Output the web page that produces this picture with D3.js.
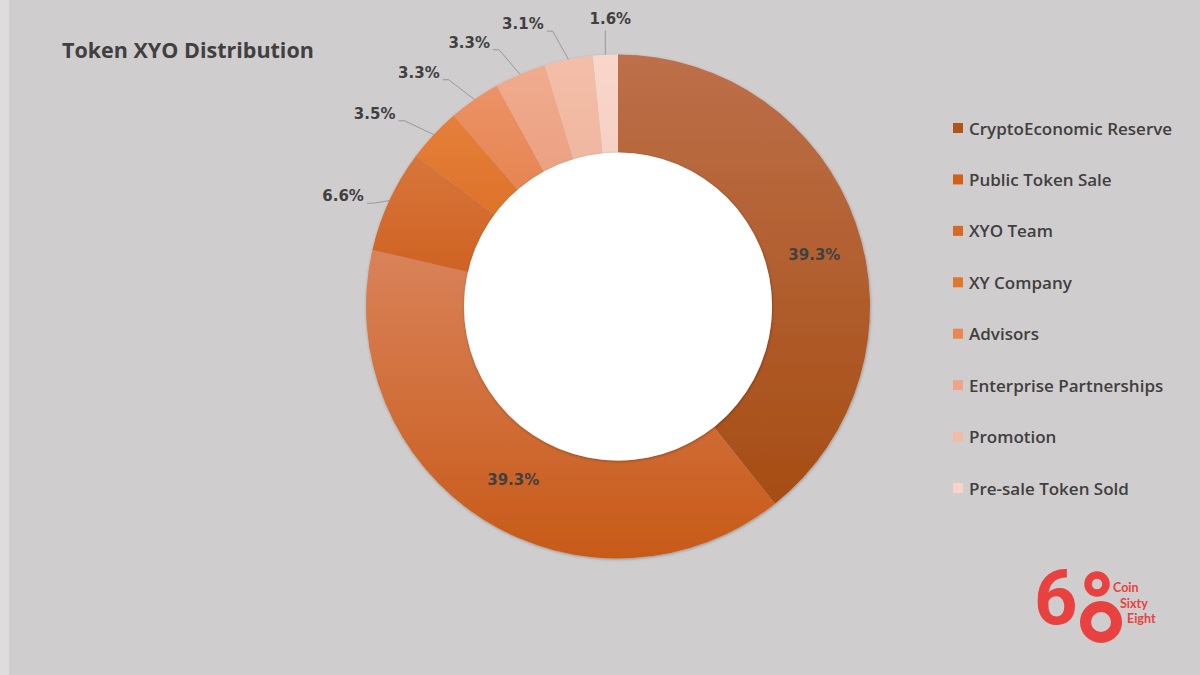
<!DOCTYPE html>
<html>
<head>
<meta charset="utf-8">
<script src="https://cdn.jsdelivr.net/npm/d3@7"></script>
<style>
  html, body { margin: 0; padding: 0; background: #dedddd; }
  svg { display: block; }
</style>
</head>
<body>
<svg id="chart" width="1200" height="675" font-family="'Open Sans', 'Noto Sans', sans-serif"></svg>
<script>
// ---- data ----
const categories = [
  "CryptoEconomic Reserve",
  "Public Token Sale",
  "XYO Team",
  "XY Company",
  "Advisors",
  "Enterprise Partnerships",
  "Promotion",
  "Pre-sale Token Sold"
];
const shares = [39.3, 39.3, 6.6, 3.5, 3.3, 3.3, 3.1, 1.6];
const percentLabels = ["39.3%", "39.3%", "6.6%", "3.5%", "3.3%", "3.3%", "3.1%", "1.6%"];
const title = "Token XYO Distribution";
const logoWords = ["Coin", "Sixty", "Eight"];

// ---- styles ----
const topColors    = ["#bd6f49", "#d9825a", "#d8753a", "#e57f3a", "#ec9266", "#f0ab8e", "#f3bea8", "#f8d6ca"];
const bottomColors = ["#a64d14", "#c85a18", "#cf6324", "#de732a", "#e68552", "#eca183", "#f1b7a0", "#f6d1c4"];
const legendColors = ["#b0541c", "#d0601a", "#d46a26", "#e0782c", "#e88850", "#eea48a", "#f3bba4", "#f7d4c6"];
const labelFont = "'DejaVu Sans', Verdana, sans-serif";

const W = 1200, H = 675;
const svg = d3.select("#chart");
const defs = svg.append("defs");

// background
svg.append("rect").attr("x", 9).attr("y", 0).attr("width", W - 9).attr("height", H).attr("fill", "#d0cdce");

// drop shadow
const f = defs.append("filter").attr("id", "sh").attr("x", "-10%").attr("y", "-10%").attr("width", "120%").attr("height", "120%");
f.append("feDropShadow").attr("dx", 0.5).attr("dy", 1).attr("stdDeviation", 1.5).attr("flood-color", "#000").attr("flood-opacity", 0.28);

// gradients
shares.forEach((s, i) => {
  const g = defs.append("linearGradient").attr("id", "g" + i)
    .attr("x1", 0).attr("y1", 0).attr("x2", 0).attr("y2", 1);
  g.append("stop").attr("offset", "0%").attr("stop-color", topColors[i]);
  g.append("stop").attr("offset", "100%").attr("stop-color", bottomColors[i]);
});

// title
svg.append("text").attr("x", 62).attr("y", 58)
  .attr("font-size", 21.5).attr("font-weight", 700).attr("fill", "#404040")
  .text(title);

// donut
const cx = 618, cy = 306.5, R = 252, r0 = 154;
const pie = d3.pie().sort(null).value(d => d);
const arcs = pie(shares);
const arc = d3.arc().innerRadius(r0).outerRadius(R);
const g = svg.append("g").attr("transform", `translate(${cx},${cy})`);

const ring = g.append("g").attr("filter", "url(#sh)");
ring.selectAll("path").data(arcs).join("path")
  .attr("d", arc)
  .attr("fill", (d, i) => `url(#g${i})`);

// white hole
g.append("circle").attr("r", r0).attr("fill", "#ffffff").attr("filter", "url(#sh)");

// inner labels (large slices)
const midR = 203;
const bigOnes = arcs.filter(d => d.value >= 10);
g.selectAll("text.inner").data(bigOnes).join("text")
  .attr("class", "inner")
  .attr("transform", d => {
    const a = (d.startAngle + d.endAngle) / 2 + (d.index === 0 ? 0.08 : -0.02);
    return `translate(${midR * Math.sin(a)},${-midR * Math.cos(a)})`;
  })
  .attr("text-anchor", "middle").attr("dominant-baseline", "central")
  .style("font-family", labelFont)
  .attr("font-size", 15).attr("font-weight", 700).attr("fill", "#404040")
  .text(d => percentLabels[d.index]);

// outside labels (small slices)
const small = arcs.filter(d => d.value < 10);
const shift = -0.035;
small.forEach(d => {
  const a = (d.startAngle + d.endAngle) / 2;
  const b = a + shift;
  const elbowR = d.value > 5 ? 266 : 283;
  const p0 = [R * Math.sin(a), -R * Math.cos(a)];
  const nearTop = Math.abs(Math.sin(a)) < 0.12;
  if (nearTop) {
    const top = -(elbowR - 7);
    g.append("path").attr("d", d3.line()([p0, [p0[0], top]]))
      .attr("stroke", "#8c8c8c").attr("stroke-width", 0.8).attr("fill", "none");
    g.append("text").attr("x", p0[0] + 5).attr("y", top - 12)
      .attr("text-anchor", "middle").attr("dominant-baseline", "central")
      .style("font-family", labelFont)
      .attr("font-size", 15).attr("font-weight", 700).attr("fill", "#404040")
      .text(percentLabels[d.index]);
  } else {
    const p1 = [elbowR * Math.sin(b), -elbowR * Math.cos(b)];
    const p2 = [p1[0] - 6, p1[1]];
    g.append("path").attr("d", d3.line()([p0, p1, p2]))
      .attr("stroke", "#8c8c8c").attr("stroke-width", 0.8).attr("fill", "none");
    g.append("text").attr("x", p2[0] - 3).attr("y", p1[1] - 7)
      .attr("text-anchor", "end").attr("dominant-baseline", "central")
      .style("font-family", labelFont)
      .attr("font-size", 15).attr("font-weight", 700).attr("fill", "#404040")
      .text(percentLabels[d.index]);
  }
});

// legend
const ly = d3.scalePoint().domain(categories).range([128, 488]);
const leg = svg.append("g").selectAll("g").data(categories).join("g")
  .attr("transform", d => `translate(953,${ly(d)})`);
leg.append("rect").attr("x", 0).attr("y", -5).attr("width", 10).attr("height", 10)
  .attr("fill", (d, i) => legendColors[i]);
leg.append("text").attr("x", 16).attr("y", 0).attr("dominant-baseline", "central")
  .attr("font-size", 17).attr("font-weight", 600).attr("fill", "#404040")
  .text(d => d);

// logo
const red = "#e8413f";
const logo = svg.append("g");
logo.append("text").attr("x", 1034).attr("y", 624)
  .attr("font-size", 76).attr("font-weight", 700).attr("fill", red)
  .style("font-family", "Roboto, 'Open Sans', sans-serif")
  .text("6");
logo.append("circle").attr("cx", 1097).attr("cy", 584).attr("r", 9).attr("fill", "none").attr("stroke", red).attr("stroke-width", 7.5);
logo.append("circle").attr("cx", 1101).attr("cy", 622).attr("r", 15.5).attr("fill", "none").attr("stroke", red).attr("stroke-width", 11);
logo.selectAll("text.w").data(logoWords).join("text").attr("class", "w")
  .attr("x", (d, i) => 1113 + i * 7).attr("y", (d, i) => 592 + i * 15.5)
  .style("font-family", "Lato, sans-serif")
  .attr("font-size", 12.5).attr("font-weight", 700).attr("fill", red)
  .text(d => d);
</script>
</body>
</html>
